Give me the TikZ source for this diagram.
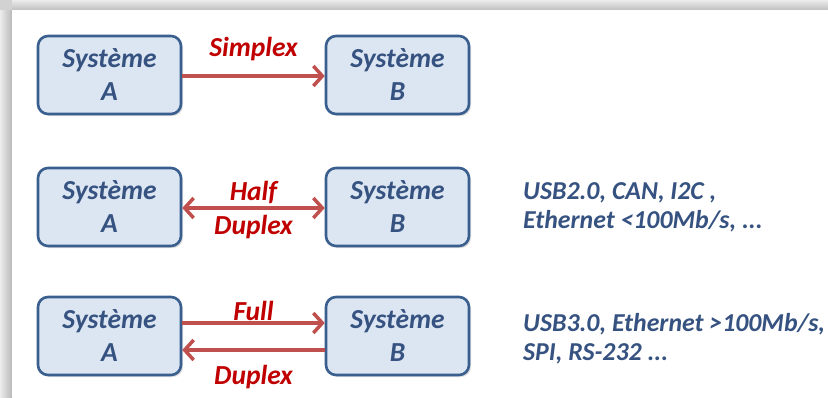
\documentclass[tikz,border=0pt]{standalone}
\usepackage{fontspec}
\setmainfont{Carlito}
\usetikzlibrary{arrows.meta,shadows}
\definecolor{boxfill}{HTML}{DCE6F2}
\definecolor{boxline}{HTML}{3A5F8F}
\definecolor{boxtext}{HTML}{365280}
\definecolor{redtext}{HTML}{C00000}
\definecolor{arrowred}{HTML}{C0504D}
\tikzset{
  sysbox/.style={draw=boxline, line width=2.6pt, fill=boxfill, rounded corners=10pt,
    minimum width=143pt, minimum height=78pt, align=center, text=boxtext,
    font=\fontsize{27.5}{33}\selectfont\bfseries\itshape,
    drop shadow={shadow xshift=2pt, shadow yshift=-2pt, opacity=0.25}},
  lab/.style={text=redtext, font=\fontsize{27.5}{29}\selectfont\bfseries\itshape, inner sep=0pt},
  info/.style={text=boxtext, font=\fontsize{25.8}{29}\selectfont\bfseries\itshape, align=left, anchor=west, inner sep=0pt},
  link/.style={draw=arrowred, line width=3.5pt, -{Straight Barb[length=9pt,width=20pt,line width=3.5pt]}},
  linkb/.style={draw=arrowred, line width=3.5pt, {Straight Barb[length=9pt,width=20pt,line width=3.5pt]}-{Straight Barb[length=9pt,width=20pt,line width=3.5pt]}}
}
\begin{document}
\begin{tikzpicture}[x=1pt,y=-1pt]
\useasboundingbox (0,0) rectangle (828,397);
% frame shadow
\fill[gray!35] (0,0) rectangle (828,397);
\shade[left color=gray!15, right color=gray!55] (0,10) rectangle (12,397);
\shade[top color=gray!15, bottom color=gray!50] (12,0) rectangle (828,10);
\fill[white] (12,10) rectangle (828,397);
% row 1
\node[sysbox] (a1) at (109.5,75) {Système\\A};
\node[sysbox] (b1) at (397.5,75) {Système\\B};
\draw[link] (a1.east |- 0,76) -- (b1.west |- 0,76);
\node[lab] (l1) at (253.5,49) {Simplex};
% row 2
\node[sysbox] (a2) at (109.5,207) {Système\\A};
\node[sysbox] (b2) at (397.5,207) {Système\\B};
\draw[linkb] (a2.east |- 0,208) -- (b2.west |- 0,208);
\node[lab] (l2a) at (253.5,192) {Half};
\node[lab] (l2b) at (253.5,227) {Duplex};
\node[info] (t2) at (523,207) {USB2.0, CAN, I2C ,\\Ethernet <100Mb/s, ...};
% row 3
\node[sysbox] (a3) at (109.5,336) {Système\\A};
\node[sysbox] (b3) at (397.5,336) {Système\\B};
\draw[link] (a3.east |- 0,323) -- (b3.west |- 0,323);
\draw[link] (b3.west |- 0,350) -- (a3.east |- 0,350);
\node[lab] (l3a) at (253.5,311) {Full};
\node[lab] (l3b) at (253.5,377) {Duplex};
\node[info] (t3) at (523,339) {USB3.0, Ethernet >100Mb/s,\\SPI, RS-232 ...};
\end{tikzpicture}
\end{document}
